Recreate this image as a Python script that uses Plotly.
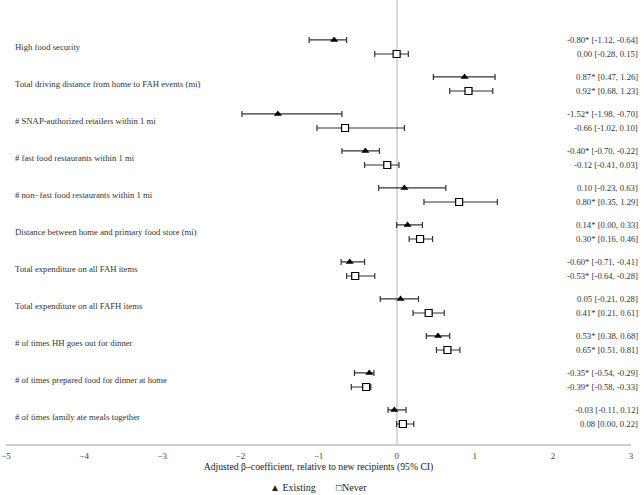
import plotly.graph_objects as go

FONT = "Liberation Serif, Times New Roman, serif"

categories = [
    "High food security",
    "Total driving distance from home to FAH events (mi)",
    "# SNAP-authorized retailers within 1 mi",
    "# fast food restaurants within 1 mi",
    "# non\u2212fast food restaurants within 1 mi",
    "Distance between home and primary food store (mi)",
    "Total expenditure on all FAH items",
    "Total expenditure on all FAFH items",
    "# of times HH goes out for dinner",
    "# of times prepared food for dinner at home",
    "# of times family ate meals together",
]

existing_est = [-0.80, 0.87, -1.52, -0.40, 0.10, 0.14, -0.60, 0.05, 0.53, -0.35, -0.03]
existing_lo = [-1.12, 0.47, -1.98, -0.70, -0.23, 0.00, -0.71, -0.21, 0.38, -0.54, -0.11]
existing_hi = [-0.64, 1.26, -0.70, -0.22, 0.63, 0.33, -0.41, 0.28, 0.68, -0.29, 0.12]
existing_sig = [True, True, True, True, False, True, True, False, True, True, False]

never_est = [0.00, 0.92, -0.66, -0.12, 0.80, 0.30, -0.53, 0.41, 0.65, -0.39, 0.08]
never_lo = [-0.28, 0.68, -1.02, -0.41, 0.35, 0.16, -0.64, 0.21, 0.51, -0.58, 0.00]
never_hi = [0.15, 1.23, 0.10, 0.03, 1.29, 0.46, -0.28, 0.61, 0.81, -0.33, 0.22]
never_sig = [False, True, False, False, True, True, True, True, True, True, False]

x_ticks = [-5, -4, -3, -2, -1, 0, 1, 2, 3]

OFFSET = 0.19
rows = list(range(len(categories)))


def ci_label(est, lo, hi, sig):
    star = "*" if sig else ""
    return f"{est:.2f}{star} [{lo:.2f}, {hi:.2f}]"


fig = go.Figure()

fig.add_trace(go.Scatter(
    name="Existing",
    x=existing_est,
    y=[r - OFFSET for r in rows],
    mode="markers",
    marker=dict(symbol="triangle-up", size=7, color="black"),
    error_x=dict(
        type="data", symmetric=False,
        array=[h - e for h, e in zip(existing_hi, existing_est)],
        arrayminus=[e - l for e, l in zip(existing_est, existing_lo)],
        color="#333333", thickness=1.2, width=3,
    ),
))

fig.add_trace(go.Scatter(
    name="Never",
    x=never_est,
    y=[r + OFFSET for r in rows],
    mode="markers",
    marker=dict(symbol="square", size=7, color="white", line=dict(color="black", width=1.2)),
    error_x=dict(
        type="data", symmetric=False,
        array=[h - e for h, e in zip(never_hi, never_est)],
        arrayminus=[e - l for e, l in zip(never_est, never_lo)],
        color="#333333", thickness=1.2, width=3,
    ),
))

annotations = []
for i, cat in enumerate(categories):
    annotations.append(dict(
        text=cat, x=0.0112, xref="paper", y=i, yref="y",
        xanchor="left", yanchor="middle", showarrow=False,
        font=dict(family=FONT, size=8.7, color="#333333"),
    ))
    annotations.append(dict(
        text=ci_label(existing_est[i], existing_lo[i], existing_hi[i], existing_sig[i]),
        x=1.0144, xref="paper", y=i - OFFSET, yref="y",
        xanchor="right", yanchor="middle", showarrow=False,
        font=dict(family=FONT, size=8.7, color="#333333"),
    ))
    annotations.append(dict(
        text=ci_label(never_est[i], never_lo[i], never_hi[i], never_sig[i]),
        x=1.0144, xref="paper", y=i + OFFSET, yref="y",
        xanchor="right", yanchor="middle", showarrow=False,
        font=dict(family=FONT, size=8.7, color="#333333"),
    ))

# legend drawn as text, the way the original shows it
annotations.append(dict(
    text="\u25b2 Existing", x=0.5, xref="paper", y=-0.099, yref="paper",
    xanchor="right", yanchor="middle", showarrow=False, xshift=-1,
    font=dict(family=FONT, size=10, color="#222222"),
))
annotations.append(dict(
    text="\u25a1Never", x=0.5, xref="paper", y=-0.099, yref="paper",
    xanchor="left", yanchor="middle", showarrow=False, xshift=15,
    font=dict(family=FONT, size=10, color="#222222"),
))

fig.update_layout(
    width=642, height=495,
    margin=dict(l=6, r=11, t=0, b=51),
    plot_bgcolor="white", paper_bgcolor="white",
    font=dict(family=FONT, size=9, color="#333333"),
    showlegend=False,
    xaxis=dict(
        range=[-5, 3], tickvals=x_ticks, ticks="", showgrid=False,
        zeroline=True, zerolinecolor="#d9d9d9", zerolinewidth=2,
        showline=True, linecolor="#cccccc", linewidth=1.5,
        automargin=False, ticklabelstandoff=2,
        tickfont=dict(family=FONT, size=9, color="#444444"),
        title=dict(text="Adjusted \u03b2\u2013coefficient, relative to new recipients (95% CI)",
                   font=dict(family=FONT, size=9.7, color="#222222"), standoff=2),
    ),
    yaxis=dict(
        range=[10.73, -1.27], showticklabels=False, showgrid=False,
        zeroline=False, showline=False, ticks="", automargin=False,
    ),
    annotations=annotations,
)

fig.write_html("out.html", config={"displayModeBar": False},
               post_script="document.body.style.margin='0';")
